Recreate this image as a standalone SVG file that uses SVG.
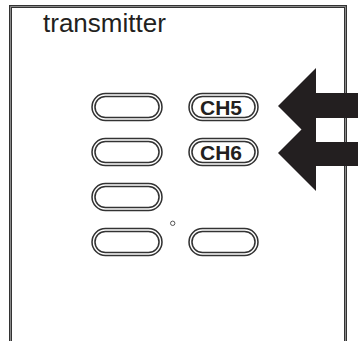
<svg xmlns="http://www.w3.org/2000/svg" width="358" height="341" viewBox="0 0 358 341">
  <defs>
    <style>
      .frame-o { fill: none; stroke: #333; stroke-width: 3; }
      .frame-i { fill: none; stroke: #8a8a8a; stroke-width: 1; }
      .btn-o { fill: #fff; stroke: #333; stroke-width: 4.5; }
      .btn-i { fill: none; stroke: #fff; stroke-width: 1.4; }
      .title { font-family: "Liberation Sans", Arial, sans-serif; font-size: 26px; fill: #231f20; }
      .lbl { font-family: "Liberation Sans", Arial, sans-serif; font-size: 21px; font-weight: bold; fill: #231f20; text-anchor: middle; }
      .arrow { fill: #231f20; }
    </style>
    <rect id="pillA" width="67" height="24" rx="12" ry="12"/>
    <rect id="pillB" width="66" height="24" rx="12" ry="12"/>
  </defs>
  <rect width="358" height="341" fill="#fff"/>

  <g id="transmitter">
    <path class="frame-o" d="M10.5,341 V6.5 H345.5 V341"/>
    <path class="frame-i" d="M10.5,341 V6.5 H345.5 V341"/>
    <text class="title" x="43" y="32">transmitter</text>
  </g>

  <g id="btn-1-1"><use href="#pillA" x="93.5" y="95" class="btn-o"/><use href="#pillA" x="93.5" y="95" class="btn-i"/></g>
  <g id="btn-2-1"><use href="#pillA" x="93.5" y="140" class="btn-o"/><use href="#pillA" x="93.5" y="140" class="btn-i"/></g>
  <g id="btn-3-1"><use href="#pillA" x="93.5" y="185" class="btn-o"/><use href="#pillA" x="93.5" y="185" class="btn-i"/></g>
  <g id="btn-4-1"><use href="#pillA" x="93.5" y="230" class="btn-o"/><use href="#pillA" x="93.5" y="230" class="btn-i"/></g>

  <g id="btn-ch5"><use href="#pillB" x="190.5" y="95" class="btn-o"/><use href="#pillB" x="190.5" y="95" class="btn-i"/>
    <text class="lbl" x="221" y="115">CH5</text></g>
  <g id="btn-ch6"><use href="#pillB" x="190.5" y="140" class="btn-o"/><use href="#pillB" x="190.5" y="140" class="btn-i"/>
    <text class="lbl" x="221" y="160">CH6</text></g>
  <g id="btn-4-2"><use href="#pillB" x="190.5" y="230" class="btn-o"/><use href="#pillB" x="190.5" y="230" class="btn-i"/></g>

  <g id="led"><circle cx="172.7" cy="223.3" r="2.2" fill="#fff" stroke="#555" stroke-width="1"/></g>

  <g id="connectors">
    <polygon class="arrow" points="278,106 316,68 316,93 358,93 358,118 316,118 316,142 358,142 358,166 316,166 316,191 278,153 301.5,129.5"/>
  </g>
</svg>
